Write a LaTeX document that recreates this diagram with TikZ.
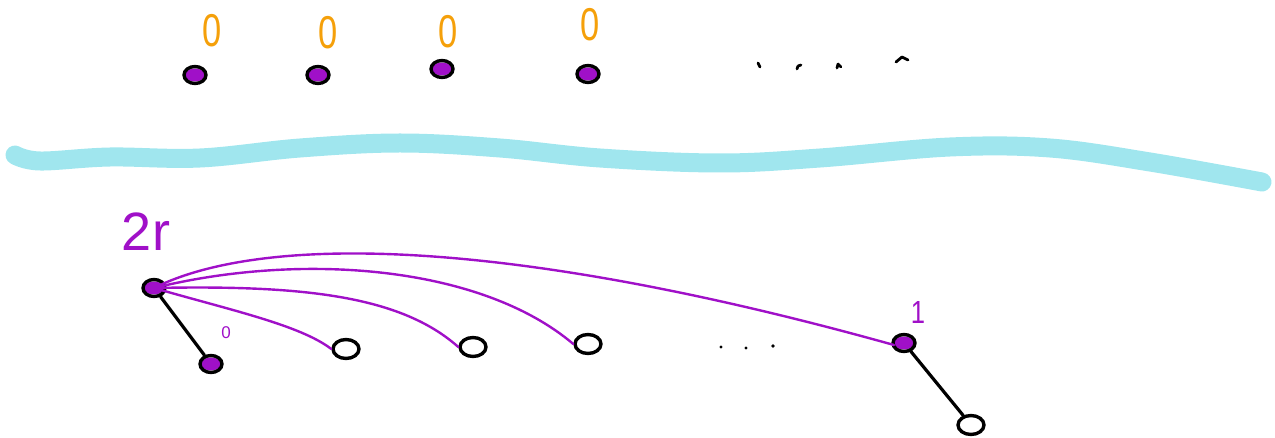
\documentclass[tikz,border=0pt]{standalone}
\usepackage{fontspec}
\setmainfont{Liberation Sans}
\usetikzlibrary{shapes.geometric}
\definecolor{hpurple}{HTML}{A010C8}
\definecolor{horange}{HTML}{F5A00A}
\definecolor{hcyan}{HTML}{A0E6EE}
\begin{document}
\begin{tikzpicture}[x=1pt,y=-1pt,line cap=round,line join=round,
  vtx/.style={draw=black,line width=3.4pt,ellipse,minimum width=22pt,minimum height=17pt,inner sep=0pt,
    path picture={\fill[hpurple] (path picture bounding box.center) ellipse (10pt and 6.5pt);}},
  vtxe/.style={draw=black,line width=3.4pt,ellipse,minimum width=26pt,minimum height=19pt,inner sep=0pt},
  zlab/.style={text=horange,font=\fontsize{46}{46}\selectfont,xscale=0.75,inner sep=0pt},
  plab/.style={text=hpurple,inner sep=0pt},
  pedge/.style={draw=hpurple,line width=2.4pt},
  bedge/.style={draw=black,line width=3.2pt},
  tick/.style={draw=black,line width=2.8pt}]
\useasboundingbox (0,0) rectangle (1275,438);
% top row
\node[vtx] (t1) at (195,75) {};
\node[vtx] (t2) at (318,75) {};
\node[vtx] (t3) at (442,69) {};
\node[vtx] (t4) at (588,74) {};
\node[zlab] (z1) at (212,31) {0};
\node[zlab] (z2) at (328,33) {0};
\node[zlab] (z3) at (448,32) {0};
\node[zlab] (z4) at (590,25) {0};
\coordinate (d1) at (758,63);
\coordinate (d2) at (798,66);
\coordinate (d3) at (838,64);
\coordinate (d4) at (902,57);
\draw[tick] (d1) -- ++(2,4);
\draw[tick] (d2) -- ++(-1,3) (d2) -- ++(3,-1);
\draw[tick] (d3) -- ++(-1,4) (d3) -- ++(3,3);
\draw[tick] (d4) -- ++(-6,5) (d4) -- ++(6,3);
% cyan band
\draw[hcyan,line width=19pt] plot[smooth,tension=0.6] coordinates {(15,155) (40,161) (110,157) (200,158) (300,148) (400,143) (500,148) (600,158) (720,163) (820,158) (950,147) (1050,148) (1150,162) (1262,182)};
% bottom tree
\node[vtx] (r) at (154,288) {};
\node[vtx] (a) at (211,364) {};
\node[vtxe] (b) at (346,349) {};
\node[vtxe] (c) at (473,347) {};
\node[vtxe] (e) at (588,344) {};
\node[vtx] (f) at (904,343) {};
\node[vtxe] (g) at (971,425) {};
\node[plab,font=\fontsize{54}{54}\selectfont] (lr) at (146,232) {2r};
\node[plab,font=\fontsize{17}{17}\selectfont] (la) at (226,333) {0};
\node[plab,font=\fontsize{32}{32}\selectfont,xscale=0.8] (lf) at (918,312) {1};
\draw[bedge] (r) -- (a);
\draw[bedge] (f) -- (g);
\draw[pedge] (r.center) .. controls (230,310) and (300,325) .. (b.west);
\draw[pedge] (r.center) .. controls (300,285) and (400,295) .. (c.west);
\draw[pedge] (r.center) .. controls (300,252) and (480,265) .. (e.west);
\draw[pedge] (r.center) .. controls (260,235) and (500,235) .. (894,345);
\coordinate (m1) at (721,347);
\coordinate (m2) at (746,348);
\coordinate (m3) at (773,346);
\fill (m1) circle (1.6pt) (m2) circle (1.6pt) (m3) circle (1.8pt);
\end{tikzpicture}
\end{document}
